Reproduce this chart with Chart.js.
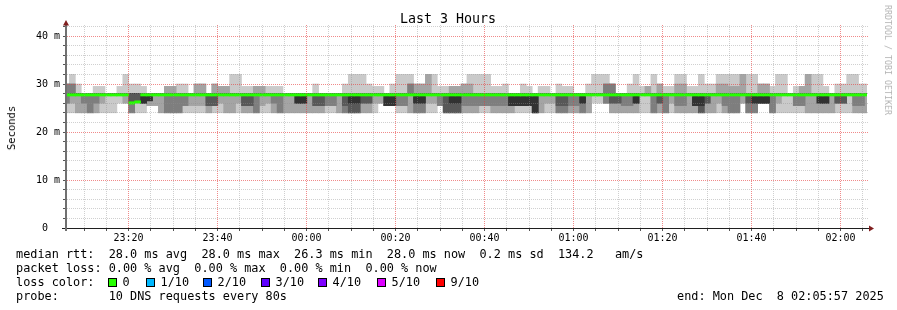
<!DOCTYPE html>
<html>
<head>
<meta charset="utf-8">
<script src="https://cdn.jsdelivr.net/npm/chart.js@4.4.1/dist/chart.umd.min.js"></script>
<style>
  body { margin: 0; background: #fff; width: 897px; height: 310px; position: relative; overflow: hidden; }
  canvas { position: absolute; left: 0; top: 0; }
  .t { position: absolute; white-space: pre; color: #000; font-family: 'DejaVu Sans Mono', monospace; }
  .leg { left: 16px; font-size: 11.85px; line-height: 14px; }
  .box { position: absolute; width: 7px; height: 7px; border: 1px solid #000; top: 278px; }
</style>
</head>
<body>
<canvas id="c" width="897" height="310"></canvas>

<div class="t" style="left:448px; top:11px; font-size:13.3px; line-height:16px; transform:translateX(-50%);">Last 3 Hours</div>
<div class="t" style="left:11px; top:128px; font-size:10.5px; line-height:12px; transform:translate(-50%,-50%) rotate(-90deg);">Seconds</div>
<div class="t" style="left:888px; top:60px; font-size:8.3px; line-height:10px; color:#b4b4b4; transform:translate(-50%,-50%) rotate(90deg);">RRDTOOL / TOBI OETIKER</div>

<div class="t leg" style="top:247px;">median rtt:  28.0 ms avg  28.0 ms max  26.3 ms min  28.0 ms now  0.2 ms sd  134.2   am/s</div>
<div class="t leg" style="top:261px;">packet loss: 0.00 % avg  0.00 % max  0.00 % min  0.00 % now</div>
<div class="t leg" style="top:275px;">loss color:</div>
<div id="lossLegend"></div>
<div class="t leg" style="top:289px;">probe:       10 DNS requests every 80s</div>
<div class="t leg" style="top:289px; left:677px;">end: Mon Dec  8 02:05:57 2025</div>

<script>
// time axis: minutes after 23:00, graph shows 23:05:57 .. 02:05:57
const viewStart = 5 + 57 / 60;
const viewEnd = viewStart + 180;
const firstStep = 5 + 23 / 60;   // first 80 s step begins 23:05:23
const stepMin = 80 / 60;

const hourTicks = [20, 40, 60, 80, 100, 120, 140, 160, 180];
const hourLabels = ['23:20', '23:40', '00:00', '00:20', '00:40', '01:00', '01:20', '01:40', '02:00'];
const yTickValues = [0, 10, 20, 30, 40];
const yTickLabels = ['0  ', '10 m', '20 m', '30 m', '40 m'];

// sorted ping times (ms) for each 80 s step, ping1 = fastest ... ping10 = slowest
const ping1 = [24,24,24,24,24,24,24,24,24,26, 26,24,24,24,25.5,25.5,24,24,24,24, 24,24,24,24,24,24,24,24,24,24,
  24,24,24,24,24,24,24,24,24,24, 24,24,24,24,24,24,24,24,24,24, 24,24,24,26,25.5,25.5,24,24,24,24,
  24,24,24,25.5,24,24,24,24,24,24, 24,24,24,24,24,24,24,24,24,24, 24,24,24,24,24,24,24,24,24,26,
  26,26,24,24,24,24,24,24,24,24, 24,24,24,24,24,24,24,24,24,24, 24,24,24,24,26,24,24,26,26,24,
  24,24,24,24,24,24,24,24,24,24, 24,24,24,24,24,24];
const ping2 = [26,26,24,24,24,24,26,28,28,28, 26,24,26.5,26,25.5,25.5,24,24,24,24, 25.5,25.5,25.5,25.5,24,25.5,26,24,24,26,
  24,24,24,25.5,26,24,24,24,24,24, 24,24,24,24,25.5,25.5,24,24,24,24, 24,24,26,26,25.5,25.5,25.5,25.5,24,24,
  24,26,26,25.5,24,24,24,24,24,24, 25.5,25.5,24,24,24,24,25.5,25.5,25.5,24, 24,26,26,24,24,24,24,24,24,28,
  28,26,24,24,24,24,24,28,28,24, 24,24,26,24,24,24,24,24,24,24, 26,24,24,24,26,24,24,26,26,24,
  26,28,28,25.5,25.5,24,24,24,24,24, 26,26,28,24,24,24];
const ping3 = [26,28,28,26,24,26,28,28,28,28, 28,24,26.5,26,26.5,28,28,24,24,24, 25.5,28,28,28,25.5,25.5,28,28,28,28,
  25.5,25.5,24,28,28,26,24,28,28,26, 26,28,25.5,25.5,25.5,25.5,28,24,24,24, 26,26,28,28,25.5,25.5,25.5,25.5,28,24,
  24,28,28,25.5,24,24,24,25.5,25.5,25.5, 25.5,25.5,25.5,25.5,25.5,25.5,25.5,25.5,25.5,24, 28,28,28,24,24,25.5,25.5,24,28,28,
  28,26,26,26,25.5,25.5,26,28,28,24, 26,24,28,25.5,25.5,28,25.5,24,26,28, 28,25.5,24,24,28,24,24,26,26,24,
  28,28,28,25.5,25.5,28,28,26,26,28, 26,26,28,25.5,25.5,28];
const ping4 = [28,28,28,28,28,28,28,28,28,28, 28,26.3,26.5,26,26.5,28,28,28,28,28, 28,28,28,28,25.5,25.5,28,28,28,28,
  25.5,25.5,28,28,28,28,28,28,28,26, 26,28,25.5,25.5,28,28,28,25.5,24,24, 26,26,28,28,25.5,25.5,28,28,28,26,
  26,28,28,28,24,24,24,28,28,28, 28,28,28,28,28,25.5,25.5,25.5,25.5,24, 28,28,28,25.5,25.5,28,28,26,28,28,
  28,28,26,26,28,28,26,28,28,28, 26,28,28,28,28,28,25.5,24,26,28, 28,28,28,28,28,26,26,26,26,28,
  28,28,28,28,28,28,28,26,26,28, 26,26,28,28,28,28];
const ping5 = [28,28,28,28,28,28,28,28,28,28, 28,28,28,26,26.5,28,28,28,28,28, 28,28,28,28,28,28,28,28,28,28,
  28,28,28,28,28,28,28,28,28,26, 26,28,28,28,28,28,28,28,26,26, 28,28,28,28,25.5,25.5,28,28,28,26,
  26,28,28,28,28,26,26,28,28,28, 28,28,28,28,28,25.5,25.5,25.5,25.5,24, 28,28,28,28,28,28,28,26,28,28,
  28,28,28,28,28,28,26,28,28,28, 28,28,28,28,28,28,25.5,25.5,28,28, 28,28,28,28,28,28,26,26,26,28,
  28,28,28,28,28,28,28,26,26,28, 28,28,28,28,28,28];
const ping6 = [28,28,28,28,28,28,28,28,28,28, 28,28,28,28,28,28,28,28,28,28, 28,28,28,28,28,28,28,28,28,28,
  28,28,28,28,28,28,28,28,28,28, 28,28,28,28,28,28,28,28,28,28, 28,28,28,28,28,28,28,28,28,28,
  28,28,28,28,28,28,28,28,28,28, 28,28,28,28,28,28,28,28,28,28, 28,28,28,28,28,28,28,28,28,28,
  28,28,28,28,28,28,28,28,28,28, 28,28,28,28,28,28,28,28,28,28, 28,28,28,28,28,28,28,28,28,28,
  28,28,28,28,28,28,28,28,28,28, 28,28,28,28,28,28];
const ping7 = [28,28,28,28,28,28,28,28,28,28, 28,28,28,28,28,28,28,28,28,28, 28,28,28,28,28,28,28,28,28,28,
  28,28,28,28,28,28,28,28,28,28, 28,28,28,28,28,28,28,28,28,28, 28,28,28,28,28,28,28,28,28,28,
  28,28,28,28,28,28,28,28,28,28, 28,28,28,28,28,28,28,28,28,28, 28,28,28,28,28,28,28,28,28,28,
  28,28,28,28,28,28,28,28,28,28, 28,28,28,28,28,28,28,28,28,28, 28,28,28,28,28,28,28,28,28,28,
  28,28,28,28,28,28,28,28,28,28, 28,28,28,28,28,28];
const ping8 = [30,30,28,28,28,28,28,28,28,28, 28,28,28,28,28,28,28,28,28,28, 28,28,28,28,28,28,28,28,28,28,
  28,28,28,28,28,28,28,28,28,28, 28,28,28,28,28,28,28,28,28,28, 28,28,28,28,28,28,28,28,30,28,
  28,28,28,28,28,28,28,28,28,28, 28,28,28,28,28,28,28,28,28,28, 28,28,28,28,28,28,28,28,28,28,
  28,30,30,28,28,28,28,28,28,28, 28,28,28,28,28,28,28,28,28,28, 28,28,28,28,28,28,28,28,28,28,
  28,28,28,28,28,28,28,28,28,28, 28,28,28,28,28,28];
const ping9 = [30,30,28,28,28,28,28,28,28,28, 28,28,28,28,28,28,28,29.5,29.5,28, 28,28,30,30,28,30,29.5,29.5,28,28,
  28,28,29.5,29.5,28,28,28,28,28,28, 28,28,28,28,28,28,28,28,28,28, 28,28,28,28,28,28,28,28,30,30,
  30,32,28,28,28,29.5,29.5,30,30,28, 28,28,28,28,28,28,28,28,28,28, 28,28,28,28,28,28,28,28,28,28,
  28,30,30,28,28,28,28,28,29.5,28, 30,28,28,30,30,28,28,28,28,28, 30,30,29.5,29.5,32,28,28,30,30,28,
  28,28,28,28,29.5,32,28,28,28,28, 28,28,28,28,28,28];
const ping10 = [30,32,30,28,28,29.5,29.5,28,28,29.5, 32,30,30,29.5,28,28,28,29.5,29.5,30, 30,28,30,30,28,30,29.5,29.5,32,32,
  29.5,29.5,29.5,29.5,29.5,29.5,29.5,28,28,28, 28,28,30,28,28,28,28,30,32,32, 32,30,29.5,29.5,28,30,32,32,32,30,
  30,32,32,29.5,29.5,29.5,29.5,30,32,32, 32,32,29.5,29.5,30,28,28,30,29.5,28, 29.5,29.5,28,30,29.5,29.5,28,28,30,32,
  32,32,30,28,28,30,32,29.5,29.5,32, 30,29.5,29.5,32,32,29.5,29.5,32,30,30, 32,32,32,32,32,32,32,30,30,29.5,
  32,32,28,29.5,29.5,32,32,32,29.5,28, 30,30,32,32,30,30];
const medianRtt = [28,28,28,28,28,28,28,28,28,28, 28,26.3,26.5,28,28,28,28,28,28,28, 28,28,28,28,28,28,28,28,28,28,
  28,28,28,28,28,28,28,28,28,28, 28,28,28,28,28,28,28,28,28,28, 28,28,28,28,28,28,28,28,28,28,
  28,28,28,28,28,28,28,28,28,28, 28,28,28,28,28,28,28,28,28,28, 28,28,28,28,28,28,28,28,28,28,
  28,28,28,28,28,28,28,28,28,28, 28,28,28,28,28,28,28,28,28,28, 28,28,28,28,28,28,28,28,28,28,
  28,28,28,28,28,28,28,28,28,28, 28,28,28,28,28,28];

const lossLabels = ['0', '1/10', '2/10', '3/10', '4/10', '5/10', '9/10'];
const lossColors = ['#26ff00', '#00b8ff', '#0059ff', '#5e00ff', '#7e00ff', '#dd00ff', '#ff0000'];
const lossBoxX = [108, 146, 203, 261, 318, 377, 436];

const legendHost = document.getElementById('lossLegend');
lossLabels.forEach((lab, i) => {
  const b = document.createElement('div');
  b.className = 'box';
  b.style.left = lossBoxX[i] + 'px';
  b.style.background = lossColors[i];
  legendHost.appendChild(b);
  const t = document.createElement('div');
  t.className = 't leg';
  t.style.top = '275px';
  t.style.left = (lossBoxX[i] + 14.5) + 'px';
  t.textContent = lab;
  legendHost.appendChild(t);
});

const pings = [ping1, ping2, ping3, ping4, ping5, ping6, ping7, ping8, ping9, ping10];
const stepCenter = k => firstStep + (k + 0.5) * stepMin;
const smokeGrays = ['#cacaca', '#a4a4a4', '#7e7e7e', '#585858', '#323232'];

const datasets = [];
datasets.push({
  data: medianRtt.map((m, k) => ({ x: stepCenter(k), y: [m - 0.5, m] })),
  backgroundColor: '#26ff00',
  order: 0
});
for (let i = 0; i < 5; i++) {
  const lo = pings[i], hi = pings[9 - i];
  datasets.push({
    data: lo.map((v, k) => ({ x: stepCenter(k), y: [v, hi[k]] })),
    backgroundColor: smokeGrays[i],
    order: 5 - i
  });
}
datasets.forEach(d => {
  d.borderWidth = 0;
  d.grouped = false;
  d.barPercentage = 1;
  d.categoryPercentage = 1;
  d.clip = 0;
});

// rrdtool-like grid colours
const minorGrid = 'rgba(143,143,143,0.42)';
const majorGrid = 'rgba(230,60,60,0.6)';
const gridMinutes = [];
for (let m = 10; m <= 185; m += 5) gridMinutes.push(m);
const gridMs = [];
for (let v = 2; v <= 42; v += 2) gridMs.push(v);

// rrdtool style: dotted grid drawn over the smoke, then axes, tick marks and arrows
const rrdFrame = {
  id: 'rrdFrame',
  afterDatasetsDraw(chart) {
    const ctx = chart.ctx, a = chart.chartArea, xs = chart.scales.x, ys = chart.scales.y;
    ctx.save();
    gridMinutes.forEach(v => {
      const px = Math.floor(xs.getPixelForValue(v));
      ctx.fillStyle = v % 20 === 0 ? majorGrid : minorGrid;
      for (let y = Math.ceil(a.top); y < a.bottom; y += 2) ctx.fillRect(px, y, 1, 1);
    });
    gridMs.forEach(v => {
      const py = Math.floor(ys.getPixelForValue(v));
      ctx.fillStyle = v % 10 === 0 ? majorGrid : minorGrid;
      for (let x = a.left + 1; x < a.right + 1; x += 2) ctx.fillRect(x, py, 1, 1);
    });
    ctx.restore();
  },
  afterDraw(chart) {
    const ctx = chart.ctx, a = chart.chartArea, xs = chart.scales.x, ys = chart.scales.y;
    ctx.save();
    ctx.fillStyle = '#555';
    gridMinutes.forEach(v => {
      const px = Math.floor(xs.getPixelForValue(v));
      ctx.fillRect(px, a.bottom + 1, 1, 2);
    });
    [0].concat(gridMs).forEach(v => {
      const py = Math.floor(ys.getPixelForValue(v));
      ctx.fillRect(a.left - 3, py, 3, 1);
    });
    // axes
    ctx.fillStyle = '#1f1f1f';
    ctx.fillRect(a.left - 4, a.bottom, a.right + 2 - (a.left - 4), 1);
    ctx.fillStyle = '#707070';
    ctx.fillRect(a.left - 1, a.top, 2, a.bottom + 3 - a.top);
    // arrows
    ctx.fillStyle = '#801f1f';
    ctx.beginPath();
    ctx.moveTo(a.left - 3, a.top + 0.5);
    ctx.lineTo(a.left + 3, a.top + 0.5);
    ctx.lineTo(a.left, a.top - 5);
    ctx.closePath();
    ctx.fill();
    ctx.beginPath();
    ctx.moveTo(a.right + 2, a.bottom - 2.5);
    ctx.lineTo(a.right + 2, a.bottom + 3.5);
    ctx.lineTo(a.right + 7, a.bottom + 0.5);
    ctx.closePath();
    ctx.fill();
    ctx.restore();
  }
};

const monoTick = { family: "'DejaVu Sans Mono', monospace", size: 10 };

new Chart(document.getElementById('c'), {
  type: 'bar',
  data: { datasets: datasets },
  options: {
    responsive: false,
    animation: false,
    devicePixelRatio: 1,
    layout: { padding: { top: 25, right: 30, left: 0, bottom: 0 } },
    plugins: { legend: { display: false }, tooltip: { enabled: false } },
    scales: {
      x: {
        type: 'linear',
        min: viewStart,
        max: viewEnd,
        offset: false,
        afterFit: s => { s.height = 82; },
        afterBuildTicks: s => { s.ticks = gridMinutes.map(v => ({ value: v })); },
        ticks: {
          autoSkip: false, maxRotation: 0, minRotation: 0, padding: 4, color: '#000', font: monoTick,
          callback: v => { const i = hourTicks.indexOf(v); return i < 0 ? '' : hourLabels[i]; }
        },
        grid: { display: false, drawTicks: false, offset: false },
        border: { display: false }
      },
      y: {
        type: 'linear',
        min: 0,
        max: 203 / 4.8,
        afterFit: s => { s.width = 66; },
        afterBuildTicks: s => { s.ticks = yTickValues.map(v => ({ value: v })); },
        ticks: {
          autoSkip: false, padding: 6, color: '#000', font: monoTick,
          callback: v => { const i = yTickValues.indexOf(v); return i < 0 ? '' : yTickLabels[i]; }
        },
        grid: { display: false, drawTicks: false },
        border: { display: false }
      }
    }
  },
  plugins: [rrdFrame]
});
</script>
</body>
</html>
